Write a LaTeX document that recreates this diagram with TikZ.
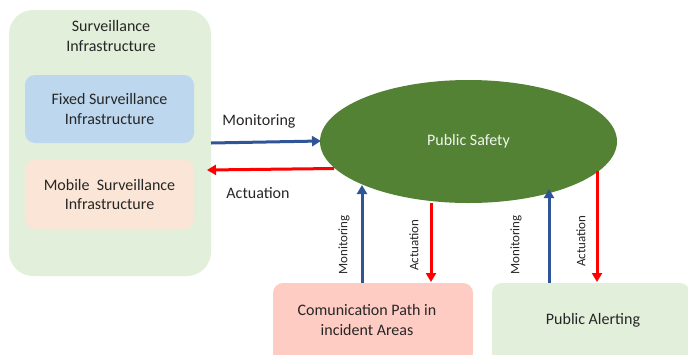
\documentclass[tikz,border=0pt]{standalone}
\usepackage{fontspec}
\setmainfont{Carlito}
\usetikzlibrary{arrows.meta,calc,shapes.geometric}
\definecolor{outerg}{HTML}{E2EFDA}
\definecolor{fixb}{HTML}{BDD7EE}
\definecolor{mobo}{HTML}{FBE5D6}
\definecolor{commp}{HTML}{FFCCC4}
\definecolor{psg}{HTML}{548235}
\definecolor{monb}{HTML}{2F5597}
\definecolor{actr}{HTML}{FF0000}
\begin{document}
\begin{tikzpicture}[x=1pt,y=-1pt,
  every node/.style={font=\fontsize{16}{19.5}\selectfont, text=black!85},
  box/.style={rounded corners=10pt, align=center, inner sep=0pt},
  mon/.style={draw=monb, line width=3pt, -{Triangle[length=9pt,width=10pt]}},
  act/.style={draw=actr, line width=3pt, -{Triangle[length=9pt,width=10pt]}},
  vlab/.style={font=\fontsize{13}{15}\selectfont, rotate=90}]
\useasboundingbox (0,0) rectangle (688,354);
% outer surveillance box
\node[box, fill=outerg, rounded corners=24pt, minimum width=202pt, minimum height=266pt] (outer) at (110,143) {};
\node[align=center] (title) at (111,36) {Surveillance\\Infrastructure};
\node[box, fill=fixb, minimum width=169pt, minimum height=68pt] (fixed) at (109.5,109) {Fixed Surveillance\\Infrastructure};
\node[box, fill=mobo, minimum width=169pt, minimum height=69pt] (mobile) at (109.5,194.5) {Mobile\ \ Surveillance\\Infrastructure};
% public safety
\node[ellipse, fill=psg, minimum width=297pt, minimum height=123pt, inner sep=0pt, text=white!92!psg] (ps) at (468.5,141.5) {Public Safety};
% bottom boxes
\node[box, fill=commp, minimum width=200pt, minimum height=80pt] (comm) at (373,323) {};
\node[align=center] (commtxt) at (367,320) {Comunication Path in\\incident Areas};
\node[box, fill=outerg, minimum width=198pt, minimum height=80pt] (alert) at (591,323) {};
\node (alerttxt) at (593,320) {Public Alerting};
% coordinates for arrow ends
\coordinate (m1s) at (211,143);
\coordinate (m1e) at (321,141);
\coordinate (a1s) at (334,168.5);
\coordinate (a1e) at (207,170);
\coordinate (m2s) at (362,283);
\coordinate (m2e) at (362,185);
\coordinate (a2s) at (431,203);
\coordinate (a2e) at (431,282);
\coordinate (m3s) at (549,283);
\coordinate (m3e) at (549,189);
\coordinate (a3s) at (597,171);
\coordinate (a3e) at (597,282);
\draw[mon] (m1s) -- (m1e);
\draw[act] (a1s) -- (a1e);
\draw[mon] (m2s) -- (m2e);
\draw[act] (a2s) -- (a2e);
\draw[mon] (m3s) -- (m3e);
\draw[act] (a3s) -- (a3e);
\node (lm1) at (259,121.5) {Monitoring};
\node (la1) at (258,193.5) {Actuation};
\node[vlab] (lm2) at (344,245) {Monitoring};
\node[vlab] (la2) at (414,245) {Actuation};
\node[vlab] (lm3) at (516,245) {Monitoring};
\node[vlab] (la3) at (581,241) {Actuation};
\end{tikzpicture}
\end{document}
